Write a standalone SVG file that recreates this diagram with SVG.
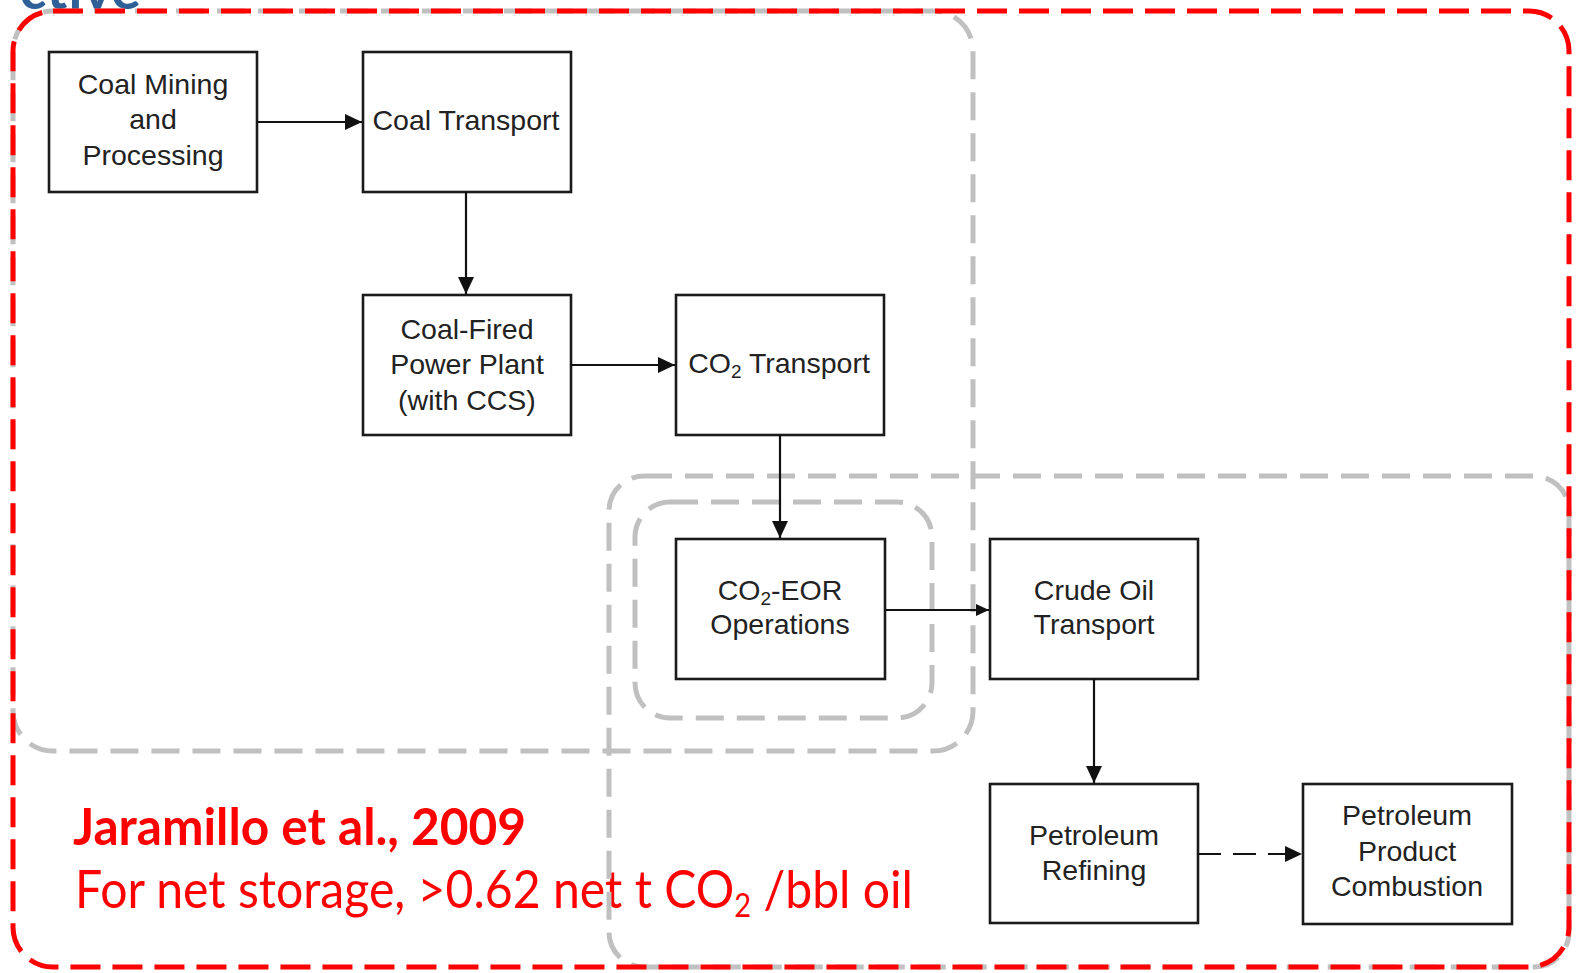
<svg xmlns="http://www.w3.org/2000/svg" width="1576" height="973" viewBox="0 0 1576 973">
<style>
.node rect{fill:#fff;stroke:#1a1a1a;stroke-width:2.6}
.node text{font-family:"Liberation Sans",Arial,sans-serif;font-size:28.5px;fill:#222;text-anchor:middle}
.sub{font-size:19px}
.grp{fill:none;stroke:#c0c0c0;stroke-width:5;stroke-dasharray:28 13}
.border{fill:none;stroke:#ff0000;stroke-width:5;stroke-dasharray:30 12}
.conn{fill:none;stroke:#111;stroke-width:2.2}
.red{font-family:Lato,"Open Sans",sans-serif;fill:#ff0000}
</style>
<defs>
<marker id="ah" markerUnits="userSpaceOnUse" markerWidth="18" markerHeight="16" refX="17" refY="8" orient="auto">
<path d="M0,0 L17,8 L0,16 Z" fill="#111"/>
</marker>
<marker id="ahs" markerUnits="userSpaceOnUse" markerWidth="14" markerHeight="12" refX="13" refY="6" orient="auto">
<path d="M0,0 L13,6 L0,12 Z" fill="#111"/>
</marker>
</defs>
<rect width="1576" height="973" fill="#fff"/>
<text x="141" y="9" font-family="Lato,'Open Sans',sans-serif" font-weight="bold" font-size="56" fill="#2e5f97" text-anchor="end">ctive</text>
<g id="notes">
<text class="red" x="73" y="845" font-weight="bold" font-size="51" textLength="453" lengthAdjust="spacingAndGlyphs">Jaramillo et al., 2009</text>
<text class="red" x="75" y="908" font-size="53" textLength="838" lengthAdjust="spacingAndGlyphs">For net storage, &gt;0.62 net t CO<tspan font-size="32" dy="9">2</tspan><tspan dy="-9"> /bbl oil</tspan></text>
</g>
<g id="groups">
<rect class="grp" x="13" y="11" width="960" height="740" rx="40"/>
<rect class="grp" x="609" y="476" width="960" height="491" rx="35"/>
<rect class="grp" x="635" y="502" width="297" height="216" rx="35"/>
</g>
<rect id="frame" class="border" x="13" y="11" width="1556" height="956" rx="40"/>
<g id="n-coal-mining" class="node">
<rect x="49" y="52" width="208" height="140"/>
<text x="153" y="94">Coal Mining</text>
<text x="153" y="129">and</text>
<text x="153" y="165">Processing</text>
</g>
<g id="n-coal-transport" class="node">
<rect x="363" y="52" width="208" height="140"/>
<text x="466" y="130">Coal Transport</text>
</g>
<g id="n-power-plant" class="node">
<rect x="363" y="295" width="208" height="140"/>
<text x="467" y="339">Coal-Fired</text>
<text x="467" y="374">Power Plant</text>
<text x="467" y="410">(with CCS)</text>
</g>
<g id="n-co2-transport" class="node">
<rect x="676" y="295" width="208" height="140"/>
<text x="779" y="373">CO<tspan class="sub" dy="5">2</tspan><tspan dy="-5"> Transport</tspan></text>
</g>
<g id="n-co2-eor" class="node">
<rect x="676" y="539" width="209" height="140"/>
<text x="780" y="600">CO<tspan class="sub" dy="5">2</tspan><tspan dy="-5">-EOR</tspan></text>
<text x="780" y="634">Operations</text>
</g>
<g id="n-crude-transport" class="node">
<rect x="990" y="539" width="208" height="140"/>
<text x="1094" y="600">Crude Oil</text>
<text x="1094" y="634">Transport</text>
</g>
<g id="n-refining" class="node">
<rect x="990" y="784" width="208" height="139"/>
<text x="1094" y="845">Petroleum</text>
<text x="1094" y="880">Refining</text>
</g>
<g id="n-combustion" class="node">
<rect x="1303" y="784" width="209" height="140"/>
<text x="1407" y="825">Petroleum</text>
<text x="1407" y="861">Product</text>
<text x="1407" y="896">Combustion</text>
</g>
<g id="connectors">
<line class="conn" x1="257" y1="122" x2="362" y2="122" marker-end="url(#ah)"/>
<line class="conn" x1="466" y1="192" x2="466" y2="294" marker-end="url(#ah)"/>
<line class="conn" x1="571" y1="365" x2="675" y2="365" marker-end="url(#ah)"/>
<line class="conn" x1="780" y1="435" x2="780" y2="538" marker-end="url(#ah)"/>
<line class="conn" x1="885" y1="610" x2="989" y2="610" marker-end="url(#ahs)"/>
<line class="conn" x1="1094" y1="679" x2="1094" y2="783" marker-end="url(#ah)"/>
<line class="conn" x1="1198" y1="854" x2="1302" y2="854" stroke-dasharray="23 12" marker-end="url(#ah)"/>
</g>
</svg>
